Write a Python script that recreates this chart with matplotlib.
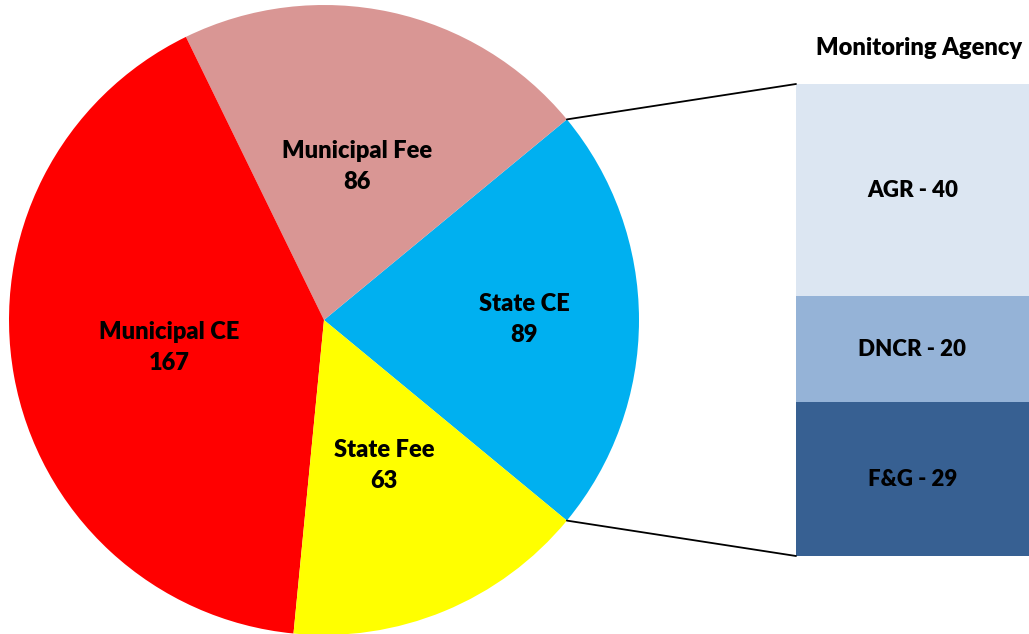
import matplotlib.pyplot as plt
from matplotlib.patches import ConnectionPatch
import numpy as np

# pie data (counter-clockwise, starting at the State CE wedge)
pie_labels = ["State CE", "Municipal Fee", "Municipal CE", "State Fee"]
pie_values = [89, 86, 167, 63]
pie_colors = ["#00B0F0", "#D99694", "#FF0000", "#FFFF00"]

# breakdown of State CE by monitoring agency (bottom to top)
agency_labels = ["F&G", "DNCR", "AGR"]
agency_values = [29, 20, 40]
agency_colors = ["#376092", "#95B3D7", "#DCE6F2"]

plt.rcParams['font.family'] = ['Lato', 'DejaVu Sans']

W, H = 1029, 634
fig = plt.figure(figsize=(W / 100, H / 100), dpi=100)

# pie axes: center (324, 320) px, radius 315 px
cx, cy, r = 324, H - 320, 315
ax1 = fig.add_axes([(cx - r) / W, (cy - r) / H, 2 * r / W, 2 * r / H])
total = sum(pie_values)
start = -pie_values[0] / total * 360 / 2
wedges, texts = ax1.pie(pie_values, colors=pie_colors, startangle=start,
                        counterclock=True, radius=1,
                        labels=[f"{l}\n{v}" for l, v in zip(pie_labels, pie_values)],
                        labeldistance=0.5,
                        wedgeprops=dict(linewidth=0))
for t in texts:
    t.set_fontsize(17)
    t.set_fontweight('heavy')
    t.set_ha('center')
    t.set_va('center')
    t.set_linespacing(1.5)
# State CE label sits further out
x, y = texts[0].get_position()
texts[0].set_position((x * 1.27, y * 1.27))
ax1.set_xlim(-1, 1)
ax1.set_ylim(-1, 1)
ax1.axis('off')

# stacked bar axes
bx0, bx1, by_top, by_bot = 796, 1029, 84, 556
ax2 = fig.add_axes([bx0 / W, (H - by_bot) / H, (bx1 - bx0) / W, (by_bot - by_top) / H])
bottom = 0
for lab, val, col in zip(agency_labels, agency_values, agency_colors):
    ax2.bar(0, val, bottom=bottom, width=1, color=col, linewidth=0)
    ax2.text(0, bottom + val / 2, f"{lab} - {val}", ha='center', va='center',
             fontsize=16, fontweight='heavy')
    bottom += val
ax2.set_xlim(-0.5, 0.5)
ax2.set_ylim(0, sum(agency_values))
ax2.axis('off')
ax2.text(0.53, 1.0 + 36 / (by_bot - by_top), "Monitoring Agency", transform=ax2.transAxes,
         ha='center', va='center', fontsize=17, fontweight='heavy')

# connector lines from the State CE wedge edges to the bar corners
theta = np.deg2rad(start)
for sign, ybar in [(1, sum(agency_values)), (-1, 0)]:
    con = ConnectionPatch(xyA=(np.cos(theta), sign * np.sin(-theta)), coordsA=ax1.transData,
                          xyB=(-0.5, ybar), coordsB=ax2.transData,
                          color='black', linewidth=1.3)
    fig.add_artist(con)

fig.savefig("out.png", dpi=100)
